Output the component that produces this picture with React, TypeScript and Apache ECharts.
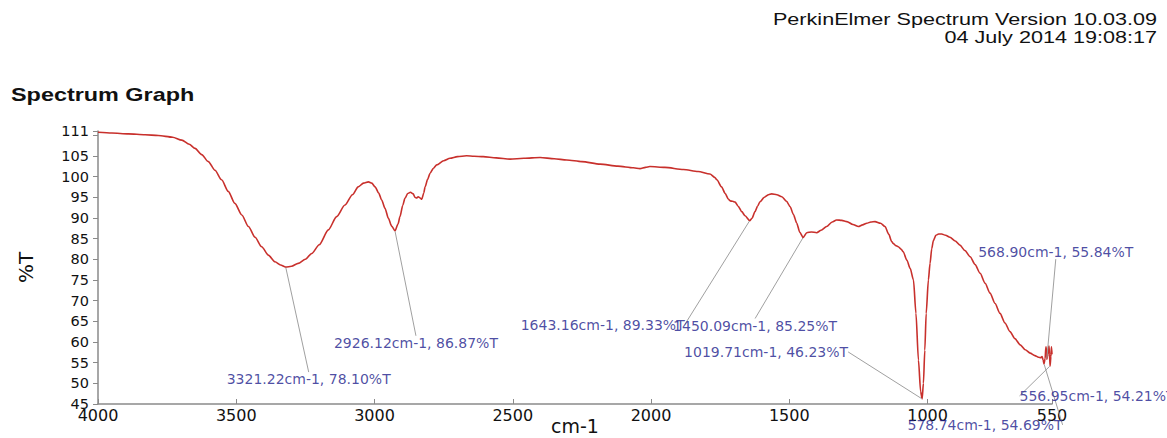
import React, { useEffect, useRef } from 'react';
import * as echarts from 'echarts';

const headerLine1 = 'PerkinElmer Spectrum Version 10.03.09';
const headerLine2 = '04 July 2014 19:08:17';
const chartTitle = 'Spectrum Graph';
const xAxisName = 'cm-1';
const yAxisName = '%T';

const wavenumbers = [
  4000, 3950, 3890, 3830, 3782, 3730, 3697, 3670, 3649, 3625, 3601, 3577, 3553, 3529, 3505, 3480, 3456, 3432, 3408, 3384,
  3360, 3340, 3321.22, 3300, 3276, 3250, 3227, 3200, 3167, 3137, 3107, 3080, 3059, 3040, 3022, 3010, 2998, 2985, 2974, 2962,
  2950, 2938, 2926.12, 2915, 2908, 2898, 2890, 2880, 2870, 2860, 2854, 2848, 2842, 2835, 2829, 2822, 2817, 2808, 2799, 2787,
  2775, 2750, 2727, 2700, 2667, 2640, 2607, 2560, 2510, 2460, 2401, 2350, 2305, 2250, 2184, 2120, 2064, 2040, 2020, 2004,
  1950, 1883, 1830, 1787, 1770, 1762, 1745, 1732, 1720, 1714, 1705, 1696, 1685, 1672, 1660, 1643.16, 1635, 1624, 1615, 1606,
  1590, 1575, 1564, 1545, 1527, 1510, 1497, 1485, 1473, 1462, 1450.09, 1437, 1420, 1401, 1385, 1365, 1345, 1329, 1310, 1292,
  1270, 1250, 1235, 1220, 1205, 1190, 1170, 1154, 1140, 1130, 1124, 1115, 1106, 1095, 1088, 1075, 1063, 1051, 1042, 1033,
  1025, 1019.71, 1015, 1010, 1005, 997, 991, 985, 979, 970, 960, 949, 935, 919, 900, 883, 865, 846, 828, 810,
  792, 774, 756, 738, 720, 702, 684, 665, 647, 629, 612, 599, 590, 586, 582, 578.74, 575, 572, 570, 568.9,
  566, 563, 561, 559, 556.95, 554, 552, 550,
];

const transmittance = [
  110.7, 110.5, 110.3, 110.1, 109.9, 109.5, 108.8, 107.8, 106.8, 105.3, 103.6, 101.5, 99.2, 96.4, 93.5, 90.7, 87.9, 85.3, 83.0, 81.0,
  79.4, 78.6, 78.1, 78.3, 79.0, 80.0, 81.4, 83.5, 87.1, 90.3, 93.1, 95.6, 97.5, 98.4, 98.7, 98.4, 97.5, 96.0, 94.3, 92.3,
  89.9, 88.0, 86.87, 88.5, 90.3, 93.0, 94.7, 95.9, 96.2, 95.8, 95.0, 94.8, 95.1, 94.8, 94.5, 96.0, 97.5, 99.3, 100.8, 102.0,
  102.8, 103.8, 104.4, 104.8, 105.0, 104.9, 104.8, 104.5, 104.2, 104.4, 104.6, 104.3, 104.0, 103.6, 103.0, 102.5, 102.1, 101.9, 102.2, 102.4,
  102.2, 101.7, 101.2, 100.6, 99.8, 99.2, 97.5, 95.9, 94.5, 94.1, 94.0, 93.8, 92.8, 91.5, 90.5, 89.33, 89.9, 91.5, 92.8, 93.9,
  95.0, 95.6, 95.8, 95.6, 95.1, 94.0, 92.7, 90.8, 88.7, 86.5, 85.25, 86.4, 86.6, 86.4, 87.0, 87.9, 89.0, 89.5, 89.4, 89.1,
  88.4, 87.9, 88.3, 88.7, 89.0, 89.1, 88.7, 87.9, 86.0, 84.3, 83.8, 83.3, 83.0, 82.4, 81.8, 79.8, 77.8, 75.0, 66.9, 55.6,
  48.0, 46.23, 50.0, 58.0, 66.9, 75.0, 79.0, 82.5, 84.5, 85.8, 86.1, 86.1, 85.8, 85.3, 84.4, 83.4, 82.1, 80.6, 78.7, 76.6,
  74.2, 71.8, 69.3, 66.9, 64.6, 62.5, 60.8, 59.3, 58.1, 57.3, 56.7, 56.3, 56.2, 56.5, 55.6, 54.69, 56.0, 58.8, 58.0, 55.84,
  56.5, 58.4, 59.0, 57.0, 54.21, 56.5, 58.8, 57.0,
];

const peakWavenumbers = [3321.22, 2926.12, 1643.16, 1450.09, 1019.71, 568.9, 556.95, 578.74];
const peakTransmittance = [78.1, 86.87, 89.33, 85.25, 46.23, 55.84, 54.21, 54.69];

const xTickValues = [4000, 3500, 3000, 2500, 2000, 1500, 1000, 550];
const yTickValues = [45, 50, 55, 60, 65, 70, 75, 80, 85, 90, 95, 100, 105, 110, 111];
const yLabelValues = [45, 50, 55, 60, 65, 70, 75, 80, 85, 90, 95, 100, 105, 111];

export default function App() {
  const ref = useRef<HTMLDivElement>(null);

  useEffect(() => {
    document.body.style.margin = '0';
    const chart = echarts.init(ref.current!, null, { renderer: 'svg' });

    // label offsets (layout only), in px from each peak point
    const labelOffsets: [number, number][] = [
      [23, 112],
      [21, 112],
      [-147, 104],
      [-48, 88],
      [-156, -47],
      [9, -107],
      [47, 30],
      [-59, 61],
    ];

    const spectrum = wavenumbers.map((w, i) => [w, transmittance[i]]);
    const peaks = peakWavenumbers.map((w, i) => ({
      name: `${w.toFixed(2)}cm-1, ${peakTransmittance[i].toFixed(2)}%T`,
      value: [w, peakTransmittance[i]],
    }));

    const axisColor = '#8a8a8a';
    const textColor = '#111111';
    const annColor = '#1e1e8c';

    chart.setOption({
      animation: false,
      backgroundColor: '#ffffff',
      textStyle: { fontFamily: '"DejaVu Sans", sans-serif' },
      grid: { left: 98, right: 115, top: 131, bottom: 34, containLabel: false, outerBoundsMode: 'none' },
      graphic: [
        {
          type: 'text',
          x: 1157,
          y: 20,
          scaleX: 1.35,
          style: {
            text: headerLine1,
            font: '16px "Liberation Sans", Arial, sans-serif',
            fill: textColor,
            align: 'right',
            verticalAlign: 'middle',
            textAlign: 'right',
            textVerticalAlign: 'middle',
          },
        },
        {
          type: 'text',
          x: 1157,
          y: 38,
          scaleX: 1.35,
          style: {
            text: headerLine2,
            font: '16px "Liberation Sans", Arial, sans-serif',
            fill: textColor,
            align: 'right',
            verticalAlign: 'middle',
            textAlign: 'right',
            textVerticalAlign: 'middle',
          },
        },
        {
          type: 'text',
          x: 11,
          y: 95,
          scaleX: 1.3,
          style: {
            text: chartTitle,
            font: 'bold 18px "Liberation Sans", Arial, sans-serif',
            fill: textColor,
            align: 'left',
            verticalAlign: 'middle',
            textAlign: 'left',
            textVerticalAlign: 'middle',
          },
        },
      ],
      xAxis: {
        type: 'value',
        inverse: true,
        min: 550,
        max: 4000,
        name: xAxisName,
        nameLocation: 'middle',
        nameGap: 22,
        nameMoveOverlap: false,
        nameTextStyle: { fontSize: 19, color: textColor, fontFamily: '"DejaVu Sans", sans-serif', verticalAlign: 'middle' },
        axisLine: { show: true, lineStyle: { color: axisColor, width: 1.5 } },
        axisTick: { show: true, inside: true, length: 5, customValues: xTickValues, lineStyle: { color: axisColor } },
        axisLabel: {
          customValues: xTickValues,
          formatter: (v: number) => String(v),
          fontSize: 16,
          color: textColor,
          margin: 3,
          fontFamily: '"DejaVu Sans", sans-serif',
        },
        splitLine: { show: false },
      },
      yAxis: {
        type: 'value',
        min: 45,
        max: 111,
        name: yAxisName,
        nameLocation: 'middle',
        nameGap: 62,
        nameRotate: 90,
        nameTextStyle: { fontSize: 20, color: textColor, fontFamily: '"DejaVu Sans", sans-serif' },
        axisLine: { show: true, lineStyle: { color: axisColor, width: 1.5 } },
        axisTick: { show: true, inside: false, length: 5, customValues: yTickValues, lineStyle: { color: axisColor } },
        axisLabel: {
          customValues: yLabelValues,
          formatter: (v: number) => String(v),
          fontSize: 14.5,
          color: textColor,
          margin: 9,
          fontFamily: '"DejaVu Sans", sans-serif',
        },
        splitLine: { show: false },
      },
      series: [
        {
          type: 'line',
          data: spectrum,
          showSymbol: false,
          smooth: 0.25,
          smoothMonotone: 'x',
          lineStyle: { color: '#c8302c', width: 1.6 },
          z: 3,
        },
        {
          type: 'scatter',
          data: peaks,
          symbol: 'circle',
          symbolSize: 1,
          itemStyle: { color: 'transparent' },
          label: {
            show: true,
            position: 'inside',
            formatter: (p: any) => p.name,
            color: annColor,
            fontSize: 14,
            fontFamily: '"DejaVu Sans", sans-serif',
          },
          labelLine: { show: true, lineStyle: { color: '#a0a0a0', width: 1 } },
          labelLayout: (params: any) => {
            const o = labelOffsets[params.dataIndex];
            return { dx: o[0], dy: o[1] };
          },
          z: 4,
        },
      ],
    });

    return () => chart.dispose();
  }, []);

  return <div ref={ref} style={{ width: 1167, height: 438 }} />;
}
